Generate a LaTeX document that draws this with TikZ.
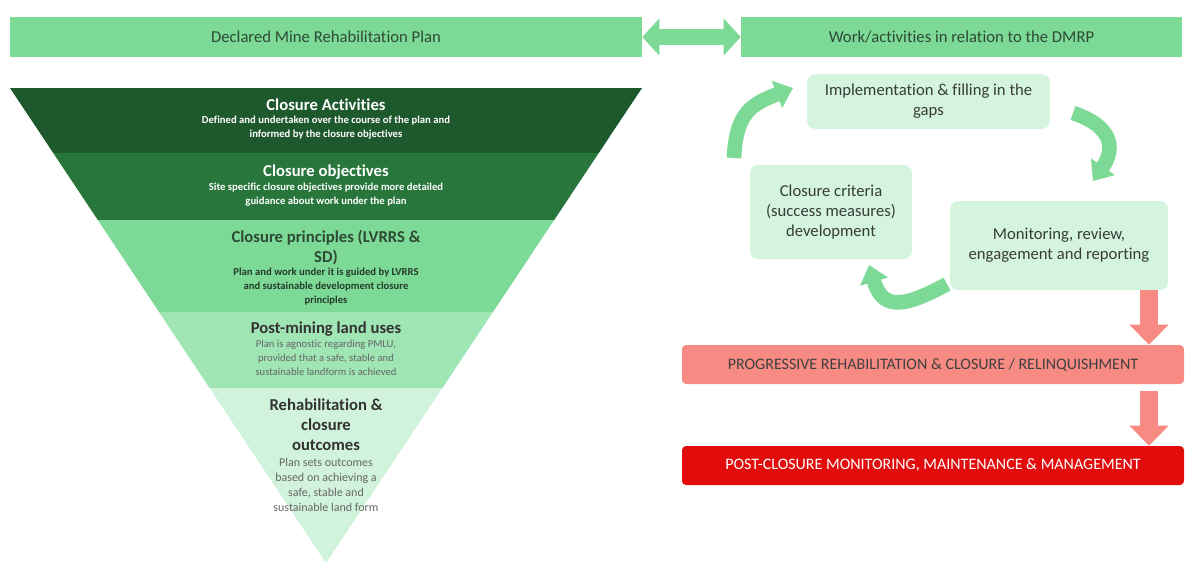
\documentclass[tikz,border=0pt]{standalone}
\usepackage{fontspec}
\setmainfont{Carlito}[Ligatures=CommonOff]
\usetikzlibrary{arrows.meta,calc}

\definecolor{barGreen}{RGB}{124,218,150}
\definecolor{barText}{RGB}{46,74,54}
\definecolor{bandA}{RGB}{30,88,45}
\definecolor{bandB}{RGB}{40,118,60}
\definecolor{bandC}{RGB}{124,218,150}
\definecolor{bandD}{RGB}{160,230,180}
\definecolor{bandE}{RGB}{209,243,220}
\definecolor{stepFill}{RGB}{212,244,222}
\definecolor{stepText}{RGB}{55,60,57}
\definecolor{salmon}{RGB}{247,139,131}
\definecolor{postRed}{RGB}{226,12,12}

\tikzset{
  barbox/.style={fill=barGreen, text=barText, minimum height=30pt, inner sep=0pt,
    font=\fontsize{12.5}{15}\selectfont},
  bandhead/.style={align=center, inner sep=0pt, font=\bfseries\fontsize{12.5}{15}\selectfont},
  bandsub/.style={align=center, inner sep=0pt, font=\bfseries\fontsize{8}{10.5}\selectfont},
  stepbox/.style={fill=stepFill, text=stepText, rounded corners=6pt, align=center,
    inner sep=0pt, font=\fontsize{12.5}{15}\selectfont},
  capsbox/.style={rounded corners=3pt, minimum width=376.5pt, minimum height=29.25pt,
    inner sep=0pt, font=\fontsize{12}{14}\selectfont},
  cyclearrow/.style={draw=barGreen, line width=11pt, -{Triangle[width=21pt,length=13pt]}},
  downarrow/.style={draw=salmon, line width=13.5pt, -{Triangle[width=28.5pt,length=15pt]}},
}

\begin{document}
\begin{tikzpicture}[x=0.75pt,y=0.75pt,yscale=-1]
	\useasboundingbox (0,0) rectangle (1187,561);
	
	% top bars
	\node[barbox, minimum width=474pt] (dmrp) at (326,37) {Declared Mine Rehabilitation Plan};
	\node[barbox, minimum width=330.75pt] (work) at (961.5,37) {Work/activities in relation to the DMRP};
	\draw[draw=barGreen, line width=12pt, {Triangle[width=27pt,length=12.75pt]}-{Triangle[width=27pt,length=12.75pt]}] (dmrp.east) -- (work.west);
	
	% inverted triangle
	\coordinate (tl) at (10,88);
	\coordinate (tr) at (642,88);
	\coordinate (ap) at (326,563);
	\foreach \ta/\tb/\col in {0/0.1368/bandA, 0.1368/0.2779/bandB, 0.2779/0.4716/bandC, 0.4716/0.6316/bandD, 0.6316/1/bandE}
		\fill[\col] ($(tl)!\ta!(ap)$) -- ($(tr)!\ta!(ap)$) -- ($(tr)!\tb!(ap)$) -- ($(tl)!\tb!(ap)$) -- cycle;
	
	\node[bandhead, text=white] (actHead) at (326,105) {Closure Activities};
	\node[bandsub, text=white] (actSub) at (326,128) {Defined and undertaken over the course of the plan and\\informed by the closure objectives};
	
	\node[bandhead, text=white] (objHead) at (326,172) {Closure objectives};
	\node[bandsub, text=white] (objSub) at (326,195) {Site specific closure objectives provide more detailed\\guidance about work under the plan};
	
	\node[bandhead, text=barText] (prinHead) at (326,248) {Closure principles (LVRRS \&\\SD)};
	\node[bandsub, text=barText!80!black] (prinSub) at (326,287) {Plan and work under it is guided by LVRRS\\and sustainable development closure\\principles};
	
	\node[bandhead, text=black!80] (pmluHead) at (326,329) {Post-mining land uses};
	\node[bandsub, font=\fontsize{8}{10.5}\selectfont, text=black!60] (pmluSub) at (326,358) {Plan is agnostic regarding PMLU,\\provided that a safe, stable and\\sustainable landform is achieved};
	
	\node[bandhead, text=black!80] (outHead) at (326,425) {Rehabilitation \&\\closure\\outcomes};
	\node[bandsub, font=\fontsize{9}{11.25}\selectfont, text=black!60] (outSub) at (326,485) {Plan sets outcomes\\based on achieving a\\safe, stable and\\sustainable land form};
	
	% work cycle
	\node[stepbox, minimum width=182pt, minimum height=41pt] (impl) at (928.5,101.5) {Implementation \& filling in the\\gaps};
	\node[stepbox, minimum width=121.5pt, minimum height=70.5pt] (crit) at (831,212) {Closure criteria\\(success measures)\\development};
	\node[stepbox, minimum width=163.5pt, minimum height=66.75pt] (moni) at (1059,245.5) {Monitoring, review,\\engagement and reporting};
	
	\coordinate (critTail) at (734,158);
	\coordinate (implTip) at (793,88);
	\coordinate (implTail) at (1073,113);
	\coordinate (moniTip) at (1093,181);
	\coordinate (moniTail) at (947,284);
	\coordinate (critTip) at (869,265);
	\draw[cyclearrow] (critTail) .. controls (736,112) and (752,104) .. (implTip);
	\draw[cyclearrow] (implTail) .. controls (1112,126) and (1116,148) .. (moniTip);
	\draw[cyclearrow] (moniTail) .. controls (900,310) and (882,308) .. (critTip);
	
	% closure stages
	\node[capsbox, fill=salmon, text=black!75] (prog) at (933,364.5) {PROGRESSIVE REHABILITATION \& CLOSURE / RELINQUISHMENT};
	\node[capsbox, fill=postRed, text=white] (post) at (933,465.5) {POST-CLOSURE MONITORING, MAINTENANCE \& MANAGEMENT};
	
	\coordinate (redx) at (1149,0);
	\draw[downarrow] (moni.south -| redx) -- (prog.north -| redx);
	\draw[downarrow, shorten <=5pt] (prog.south -| redx) -- (post.north -| redx);
	
\end{tikzpicture}
\end{document}
